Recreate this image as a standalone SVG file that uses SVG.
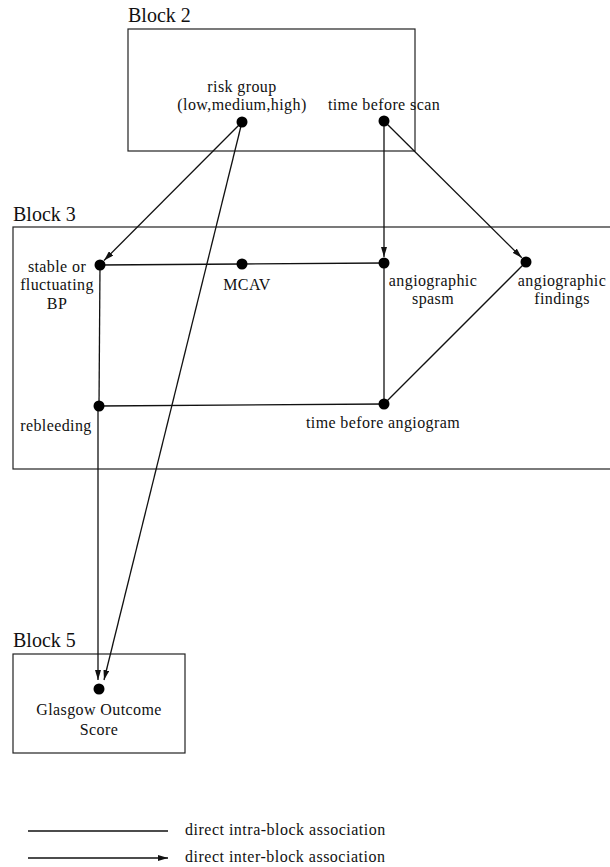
<svg xmlns="http://www.w3.org/2000/svg" width="610" height="867" viewBox="0 0 610 867">
<style>
  .bg { fill: #ffffff; }
  .block { fill: none; stroke: #222; stroke-width: 1.2; }
  .title { font-family: "Liberation Serif", "Times New Roman", serif; font-size: 20px; fill: #111; }
  .lbl { font-family: "Liberation Serif", "Times New Roman", serif; font-size: 16px; fill: #111; text-anchor: middle; letter-spacing: 0.4px; }
  .leg { font-family: "Liberation Serif", "Times New Roman", serif; font-size: 16px; fill: #111; letter-spacing: 0.5px; }
  .dot { fill: #000; }
  .intra { stroke: #111; stroke-width: 1.3; fill: none; }
  .inter { stroke: #111; stroke-width: 1.3; fill: none; marker-end: url(#arr); }
</style>
<defs>
  <marker id="arr" markerUnits="userSpaceOnUse" markerWidth="10" markerHeight="6" refX="10" refY="3" orient="auto">
    <path d="M0,0 L10,3 L0,6 Z" fill="#111"/>
  </marker>
</defs>
<rect class="bg" x="0" y="0" width="610" height="867"/>

<g id="block2">
  <text class="title" x="128" y="22">Block 2</text>
  <rect class="block" x="128" y="29" width="287" height="122"/>
</g>
<g id="block3">
  <text class="title" x="13" y="221">Block 3</text>
  <rect class="block" x="13" y="227" width="610" height="242"/>
</g>
<g id="block5">
  <text class="title" x="13" y="647">Block 5</text>
  <rect class="block" x="13" y="654" width="172" height="99"/>
</g>

<g id="connectors">
  <!-- intra-block -->
  <line class="intra" x1="100" y1="265" x2="242" y2="264"/>
  <line class="intra" x1="242" y1="264" x2="384" y2="263"/>
  <line class="intra" x1="100" y1="265" x2="99" y2="406"/>
  <line class="intra" x1="99" y1="406" x2="384" y2="404"/>
  <line class="intra" x1="384" y1="263" x2="384" y2="404"/>
  <line class="intra" x1="526" y1="262" x2="384" y2="404"/>
  <!-- inter-block -->
  <line class="inter" x1="242" y1="122" x2="104" y2="260.5"/>
  <line class="inter" x1="242" y1="122" x2="104" y2="680"/>
  <line class="inter" x1="384" y1="121" x2="384" y2="257"/>
  <line class="inter" x1="384" y1="121" x2="521.8" y2="257.8"/>
  <line class="inter" x1="98" y1="406" x2="98" y2="680"/>
</g>

<g id="node-risk-group">
  <circle class="dot" cx="242" cy="122" r="5.5"/>
  <text class="lbl" x="242" y="92">risk group</text>
  <text class="lbl" x="242" y="110">(low,medium,high)</text>
</g>
<g id="node-time-before-scan">
  <circle class="dot" cx="384" cy="121" r="5.5"/>
  <text class="lbl" x="384" y="110">time before scan</text>
</g>
<g id="node-bp">
  <circle class="dot" cx="100" cy="265" r="5.5"/>
  <text class="lbl" x="57" y="272">stable or</text>
  <text class="lbl" x="57" y="290">fluctuating</text>
  <text class="lbl" x="57" y="309">BP</text>
</g>
<g id="node-mcav">
  <circle class="dot" cx="242" cy="264" r="5.5"/>
  <text class="lbl" x="247" y="290">MCAV</text>
</g>
<g id="node-spasm">
  <circle class="dot" cx="384" cy="263" r="5.5"/>
  <text class="lbl" x="433" y="286">angiographic</text>
  <text class="lbl" x="433" y="304">spasm</text>
</g>
<g id="node-findings">
  <circle class="dot" cx="526" cy="262" r="5.5"/>
  <text class="lbl" x="562" y="286">angiographic</text>
  <text class="lbl" x="562" y="304">findings</text>
</g>
<g id="node-rebleeding">
  <circle class="dot" cx="99" cy="406" r="5.5"/>
  <text class="lbl" x="56" y="431">rebleeding</text>
</g>
<g id="node-time-before-angiogram">
  <circle class="dot" cx="384" cy="404" r="5.5"/>
  <text class="lbl" x="383" y="428">time before angiogram</text>
</g>
<g id="node-glasgow">
  <circle class="dot" cx="99" cy="689" r="5.5"/>
  <text class="lbl" x="99" y="715">Glasgow Outcome</text>
  <text class="lbl" x="99" y="735">Score</text>
</g>

<g id="legend">
  <line class="intra" x1="28" y1="831" x2="168" y2="831"/>
  <text class="leg" x="185" y="835">direct intra-block association</text>
  <line class="inter" x1="28" y1="858" x2="168" y2="858"/>
  <text class="leg" x="185" y="862">direct inter-block association</text>
</g>
</svg>
